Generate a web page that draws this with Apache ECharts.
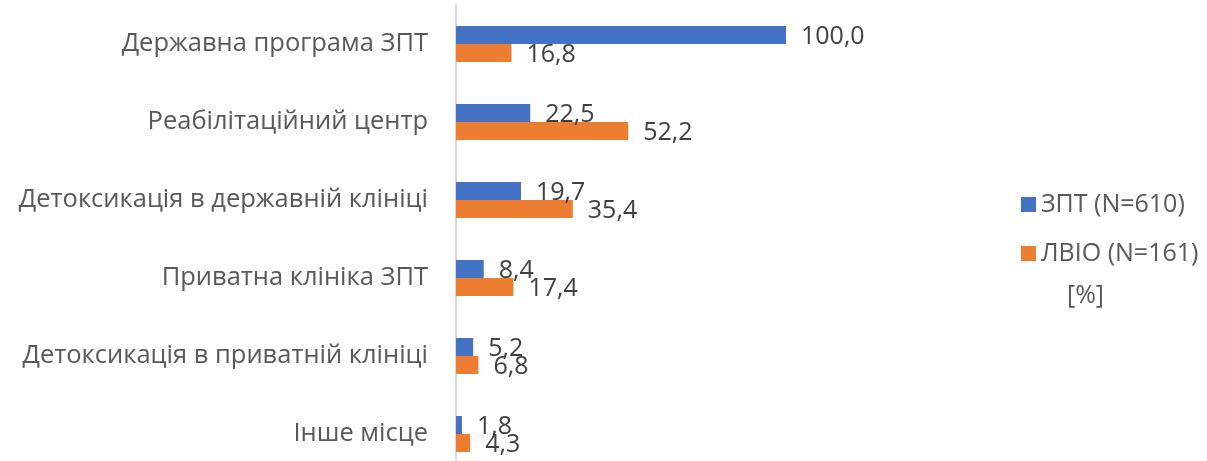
<!DOCTYPE html>
<html>
<head>
<meta charset="utf-8">
<script src="https://cdn.jsdelivr.net/npm/echarts@6/dist/echarts.min.js"></script>
<style>
  html, body { margin: 0; padding: 0; background: #fff; }
  #main { width: 1207px; height: 461px; }
</style>
</head>
<body>
<div id="main"></div>
<script>
// categories top to bottom
var categories = [
  'Державна програма ЗПТ',
  'Реабілітаційний центр',
  'Детоксикація в державній клініці',
  'Приватна клініка ЗПТ',
  'Детоксикація в приватній клініці',
  'Інше місце'
];
var zptValues = [100.0, 22.5, 19.7, 8.4, 5.2, 1.8];
var lvioValues = [16.8, 52.2, 35.4, 17.4, 6.8, 4.3];
var seriesNames = ['ЗПТ (N=610)', 'ЛВІО (N=161)'];

var font = 'Open Sans, Noto Sans, sans-serif';
var labelFmt = function (p) { return p.value.toFixed(1).replace('.', ','); };

var chart = echarts.init(document.getElementById('main'));
chart.setOption({
  animation: false,
  grid: { left: 456, top: 5, width: 330, height: 468, containLabel: false, outerBoundsMode: 'none' },
  legend: {
    orient: 'vertical',
    left: 1016,
    top: 187,
    itemWidth: 15,
    itemHeight: 15,
    itemGap: 24,
    icon: 'rect',
    textStyle: { fontFamily: font, fontSize: 25, color: '#595959' },
    data: seriesNames
  },
  graphic: [{
    type: 'text',
    left: 1067,
    top: 283,
    style: { text: '[%]', fontFamily: font, fontSize: 25, fill: '#595959' }
  }],
  xAxis: {
    type: 'value',
    min: 0,
    max: 100,
    show: false
  },
  yAxis: {
    type: 'category',
    inverse: true,
    data: categories,
    axisLine: { show: true, lineStyle: { color: '#d9d9d9', width: 2 } },
    axisTick: { show: false },
    axisLabel: { margin: 28, fontFamily: font, fontSize: 25.5, color: '#595959' }
  },
  series: [{
    name: seriesNames[0],
    type: 'bar',
    data: zptValues,
    barWidth: 18,
    barGap: '0%',
    itemStyle: { color: '#4472c4' },
    label: { show: true, position: 'right', distance: 15, formatter: labelFmt,
      fontFamily: font, fontSize: 25, color: '#404040', offset: [0, 2] }
  }, {
    name: seriesNames[1],
    type: 'bar',
    data: lvioValues,
    barWidth: 18,
    barGap: '0%',
    itemStyle: { color: '#ed7d31' },
    label: { show: true, position: 'right', distance: 15, formatter: labelFmt,
      fontFamily: font, fontSize: 25, color: '#404040', offset: [0, 2] }
  }]
});
</script>
</body>
</html>
